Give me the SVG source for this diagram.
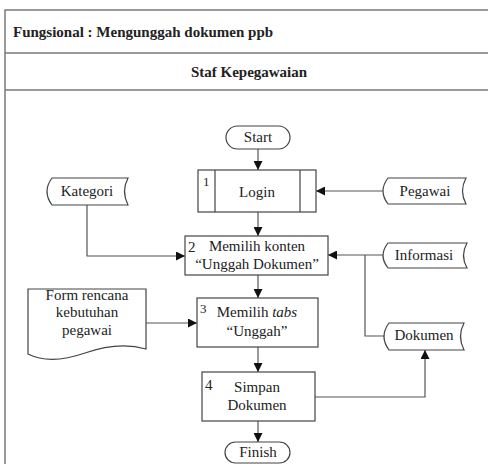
<svg xmlns="http://www.w3.org/2000/svg" width="488" height="464" viewBox="0 0 488 464">
<defs>
<style>
.frame{fill:none;stroke:#7a7a7a;stroke-width:1.5}
.shape{fill:#fff;stroke:#444;stroke-width:1.2}
.line{fill:none;stroke:#555;stroke-width:1.2}
text{fill:#222;font-size:15px}
.c{text-anchor:middle}
.h{font-weight:bold}
.n{font-size:13px}
</style>
<marker id="arr" markerUnits="userSpaceOnUse" markerWidth="9" markerHeight="9" refX="9" refY="4.5" orient="auto">
<path d="M0,0 L9,4.5 L0,9 Z" fill="#111"/>
</marker>
</defs>
<rect width="488" height="464" fill="#fff"/>
<g font-family="'Liberation Serif', 'Times New Roman', 'DejaVu Serif', serif">
<g id="frame">
<path class="frame" d="M5,464 V10 H488 M5,53 H488 M5,90 H488"/>
<text class="h" x="13" y="37">Fungsional : Mengunggah dokumen ppb</text>
<text class="h c" x="249" y="77">Staf Kepegawaian</text>
</g>
<g id="connectors">
<path class="line" d="M258,149 V170" marker-end="url(#arr)"/>
<path class="line" d="M258,212 V236" marker-end="url(#arr)"/>
<path class="line" d="M258,275 V298" marker-end="url(#arr)"/>
<path class="line" d="M258,347 V372" marker-end="url(#arr)"/>
<path class="line" d="M258,421 V442" marker-end="url(#arr)"/>
<path class="line" d="M383,191 H316" marker-end="url(#arr)"/>
<path class="line" d="M383,255 H328" marker-end="url(#arr)"/>
<path class="line" d="M385,336 H365 V255"/>
<path class="line" d="M87,205 V256 H185" marker-end="url(#arr)"/>
<path class="line" d="M146,323 H197" marker-end="url(#arr)"/>
<path class="line" d="M315,397 H425 V350" marker-end="url(#arr)"/>
</g>
<g id="start">
<rect class="shape" x="226" y="126" width="64" height="23" rx="11.5"/>
<text class="c" x="258" y="142">Start</text>
</g>
<g id="login">
<rect class="shape" x="198" y="170" width="118" height="42"/>
<path class="shape" d="M215,170 V212 M300,170 V212"/>
<text class="n" x="203" y="186">1</text>
<text class="c" x="257" y="197">Login</text>
</g>
<g id="step2">
<rect class="shape" x="185" y="236" width="143" height="39"/>
<text x="188" y="252">2</text>
<text class="c" x="257" y="251">Memilih konten</text>
<text class="c" x="257" y="269">“Unggah Dokumen”</text>
</g>
<g id="step3">
<rect class="shape" x="197" y="298" width="121" height="49"/>
<text class="n" x="200" y="313">3</text>
<text class="c" x="257" y="317">Memilih <tspan font-style="italic">tabs</tspan></text>
<text class="c" x="257" y="336">“Unggah”</text>
</g>
<g id="step4">
<rect class="shape" x="202" y="372" width="113" height="49"/>
<text x="205" y="390">4</text>
<text class="c" x="257" y="392">Simpan</text>
<text class="c" x="257" y="410">Dokumen</text>
</g>
<g id="finish">
<rect class="shape" x="225" y="442" width="65" height="21" rx="10.5"/>
<text class="c" x="258" y="457">Finish</text>
</g>
<g id="kategori">
<path class="shape" d="M52,178 H128 Q121,191.5 128,205 H52 Q42,191.5 52,178 Z"/>
<text class="c" x="87" y="196">Kategori</text>
</g>
<g id="pegawai">
<path class="shape" d="M388,178 H466 Q459,191 466,204 H388 Q378,191 388,178 Z"/>
<text class="c" x="425" y="196">Pegawai</text>
</g>
<g id="informasi">
<path class="shape" d="M388,243 H467 Q460,255.5 467,268 H388 Q378,255.5 388,243 Z"/>
<text class="c" x="424" y="260">Informasi</text>
</g>
<g id="dokumen">
<path class="shape" d="M389,323 H464 Q457,336.5 464,350 H389 Q379,336.5 389,323 Z"/>
<text class="c" x="424" y="340">Dokumen</text>
</g>
<g id="form">
<path class="shape" d="M28,289 H146 V349 C125,343 105,346 85,353 C62,361 42,361 28,354 Z"/>
<text class="c" x="87" y="300">Form rencana</text>
<text class="c" x="87" y="317">kebutuhan</text>
<text class="c" x="87" y="335">pegawai</text>
</g>
</g>
</svg>
